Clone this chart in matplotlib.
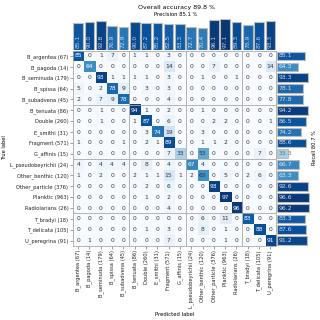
import numpy as np
import matplotlib.pyplot as plt

classes = ['B_argentea', 'B_pagoda', 'B_seminuda', 'B_spissa', 'B_subadvena',
           'B_tenuata', 'Double', 'E_smithi', 'Fragment', 'G_affinis',
           'L_pseudobeyrichii', 'Other_benthic', 'Other_particle', 'Planktic',
           'Radiolarians', 'T_bradyi', 'T_delicata', 'U_peregrina']
counts = [67, 14, 179, 64, 45, 86, 260, 31, 571, 15, 24, 120, 376, 963, 26, 18, 105, 91]

# row-normalised confusion matrix, percent
cm = np.array([
    [85, 0, 1, 7, 0, 1, 1, 0, 3, 0, 0, 0, 0, 0, 0, 0, 0, 0],
    [0, 64, 0, 0, 0, 0, 0, 0, 14, 0, 0, 0, 7, 0, 0, 0, 0, 14],
    [0, 0, 93, 1, 1, 1, 1, 0, 3, 0, 0, 1, 0, 0, 1, 0, 0, 0],
    [5, 0, 2, 78, 9, 0, 3, 0, 3, 0, 0, 0, 0, 0, 0, 0, 0, 0],
    [2, 0, 7, 9, 78, 0, 0, 0, 4, 0, 0, 0, 0, 0, 0, 0, 0, 0],
    [0, 0, 1, 0, 0, 94, 1, 0, 2, 0, 0, 1, 0, 0, 0, 0, 0, 0],
    [0, 0, 1, 0, 0, 1, 87, 0, 6, 0, 0, 0, 2, 2, 0, 0, 0, 1],
    [0, 0, 0, 0, 0, 0, 3, 74, 19, 0, 0, 3, 0, 0, 0, 0, 0, 0],
    [1, 0, 0, 0, 1, 0, 2, 1, 89, 0, 0, 1, 1, 2, 0, 0, 0, 0],
    [0, 0, 0, 0, 0, 0, 0, 0, 7, 33, 0, 53, 0, 0, 0, 0, 7, 0],
    [4, 0, 4, 4, 4, 0, 8, 0, 4, 0, 67, 4, 0, 0, 0, 0, 0, 0],
    [1, 0, 2, 0, 0, 2, 1, 1, 15, 1, 2, 63, 0, 5, 0, 2, 6, 0],
    [0, 0, 0, 0, 0, 0, 2, 0, 6, 0, 0, 0, 93, 0, 0, 0, 0, 0],
    [0, 0, 0, 0, 0, 0, 1, 0, 2, 0, 0, 0, 0, 97, 0, 0, 0, 0],
    [0, 0, 0, 0, 0, 0, 0, 0, 4, 0, 0, 0, 0, 0, 96, 0, 0, 0],
    [0, 0, 0, 0, 0, 0, 0, 0, 0, 0, 0, 6, 0, 11, 0, 83, 0, 0],
    [0, 0, 0, 0, 0, 0, 1, 0, 3, 0, 0, 8, 0, 1, 0, 0, 88, 0],
    [0, 1, 0, 0, 0, 0, 0, 0, 7, 0, 0, 0, 0, 1, 0, 0, 0, 91],
])

precision = [85.1, 90.0, 92.8, 76.9, 72.9, 90.0, 87.2, 85.2, 82.5, 83.3,
             72.7, 70.4, 96.1, 97.1, 89.3, 78.9, 87.6, 93.3]
recall = [85.1, 64.3, 93.3, 78.1, 77.8, 94.2, 86.5, 74.2, 88.6, 33.3,
          66.7, 63.3, 92.6, 96.6, 96.2, 83.3, 87.6, 91.2]

labels = [f'{c} ({n})' for c, n in zip(classes, counts)]
n = len(classes)
cmap = plt.get_cmap('Blues')

fig = plt.figure(figsize=(3.2, 3.2), dpi=100)

# main matrix
ax = fig.add_axes([0.2266, 0.231, 0.636, 0.611])
ax.imshow(cm, cmap=cmap, vmin=0, vmax=100, aspect='auto', interpolation='nearest')
for i in range(n):
    for j in range(n):
        v = cm[i, j]
        ax.text(j, i, str(v), ha='center', va='center', fontsize=4.3,
                color='white' if v > 63.5 else '#333333')
for b in [4.5, 9.5, 14.5]:
    ax.axhline(b, color='#a8a8a8', lw=0.6)
    ax.axvline(b, color='#a8a8a8', lw=0.6)
ax.set_xticks(range(n))
ax.set_xticklabels(labels, rotation=90, fontsize=3.7)
ax.set_yticks(range(n))
ax.set_yticklabels(labels, fontsize=3.7)
ax.tick_params(length=2, width=0.4, pad=1, color='#555555', labelcolor='#222222')
for s in ax.spines.values():
    s.set_color('#a8a8a8')
    s.set_linewidth(0.6)

# precision bars on top
axp = fig.add_axes([0.2266, 0.845, 0.636, 0.097])
axp.bar(range(n), precision, width=0.85, color=cmap(np.array(precision) / 100),
        edgecolor='#bbbbbb', lw=0.8)
for i, v in enumerate(precision):
    axp.text(i, 5, f'{v:.1f}', rotation=90, ha='center', va='bottom',
             fontsize=4.3, color='white', alpha=0.75)
axp.set_xlim(-0.5, n - 0.5)
axp.set_ylim(0, 100)
axp.axis('off')

# recall bars on the right
axr = fig.add_axes([0.865, 0.231, 0.104, 0.611])
axr.barh(range(n), recall, height=0.8, color=cmap(np.array(recall) / 100),
         edgecolor='#bbbbbb', lw=0.8)
for i, v in enumerate(recall):
    axr.text(4, i, f'{v:.1f}', ha='left', va='center', fontsize=4.4,
             color='white' if v > 50 else '#555555', alpha=0.8)
axr.set_ylim(n - 0.5, -0.5)
axr.set_xlim(0, 100)
axr.axis('off')

fig.text(176 / 320, 1 - 7 / 320, 'Overall accuracy 89.8 %', ha='center', va='center', fontsize=4.5)
fig.text(176 / 320, 1 - 14 / 320, 'Precision 85.1 %', ha='center', va='center', fontsize=3.8)
fig.text(314 / 320, 1 - 148 / 320, 'Recall 80.7 %', rotation=90, ha='center', va='center', fontsize=3.7)
fig.text(5 / 320, 1 - 148 / 320, 'True label', rotation=90, ha='center', va='center', fontsize=3.7)
fig.text(175 / 320, 1 - 314 / 320, 'Predicted label', ha='center', va='center', fontsize=3.8)

fig.savefig('out.png', dpi=100)
